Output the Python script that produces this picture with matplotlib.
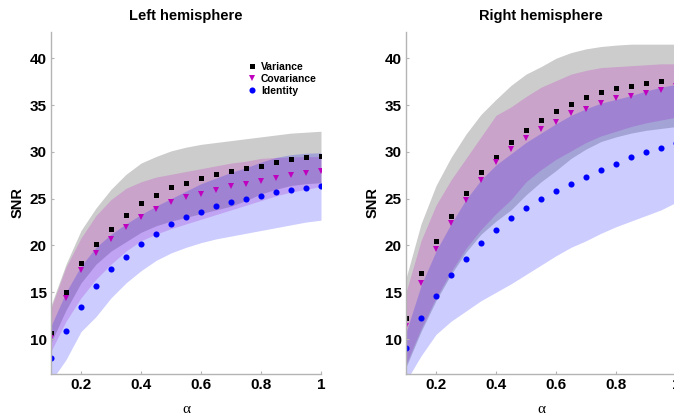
import numpy as np
import matplotlib
matplotlib.use('Agg')
import matplotlib.pyplot as plt

alpha = [0.1, 0.15, 0.2, 0.25, 0.3, 0.35, 0.4, 0.45, 0.5, 0.55,
         0.6, 0.65, 0.7, 0.75, 0.8, 0.85, 0.9, 0.95, 1.0]

# left hemisphere: means
left_var = [10.7, 15.0, 18.1, 20.2, 21.8, 23.2, 24.5, 25.4, 26.2, 26.7,
            27.2, 27.6, 27.9, 28.3, 28.5, 28.9, 29.2, 29.4, 29.6]
left_cov = [10.1, 14.4, 17.4, 19.2, 20.7, 22.0, 23.0, 23.9, 24.6, 25.2,
            25.5, 25.9, 26.3, 26.6, 26.9, 27.2, 27.5, 27.7, 27.9]
left_id = [8.0, 10.9, 13.4, 15.7, 17.5, 18.8, 20.2, 21.2, 22.3, 23.0,
           23.6, 24.2, 24.6, 25.0, 25.3, 25.7, 25.9, 26.1, 26.3]
# left hemisphere: bands
left_var_lo = [9.6, 13.1, 16.0, 18.0, 19.4, 20.4, 21.4, 22.1, 22.6, 23.0,
               23.4, 23.8, 24.2, 24.8, 25.5, 26.0, 26.4, 26.6, 26.7]
left_var_hi = [13.6, 18.0, 21.6, 24.0, 26.0, 27.6, 28.8, 29.5, 30.1, 30.5,
               30.8, 31.0, 31.2, 31.4, 31.6, 31.8, 32.0, 32.1, 32.2]
left_cov_lo = [8.7, 11.9, 14.4, 16.4, 18.0, 19.4, 20.5, 21.2, 21.8, 22.3,
               22.8, 23.3, 23.8, 24.3, 24.8, 25.3, 25.7, 26.0, 26.3]
left_cov_hi = [13.3, 17.7, 20.8, 23.2, 24.9, 26.1, 26.8, 27.3, 27.6, 27.9,
               28.2, 28.5, 28.8, 29.0, 29.3, 29.4, 29.45, 29.5, 29.5]
left_id_lo = [5.5, 7.8, 10.8, 12.4, 14.4, 16.0, 17.3, 18.4, 19.2, 19.8,
              20.3, 20.7, 21.0, 21.3, 21.6, 21.9, 22.2, 22.5, 22.7]
left_id_hi = [11.4, 15.0, 17.8, 19.8, 21.2, 22.3, 23.3, 24.2, 25.0, 25.8,
              26.6, 27.2, 27.8, 28.3, 28.9, 29.4, 29.7, 29.85, 29.9]

# right hemisphere: means
right_var = [12.3, 17.1, 20.5, 23.1, 25.6, 27.8, 29.5, 31.1, 32.3, 33.4,
             34.4, 35.1, 35.9, 36.4, 36.8, 37.0, 37.4, 37.6, 37.7]
right_cov = [11.4, 16.0, 19.6, 22.4, 24.9, 27.0, 28.9, 30.3, 31.5, 32.4,
             33.2, 34.1, 34.6, 35.2, 35.8, 36.0, 36.3, 36.6, 37.0]
right_id = [9.05, 12.2, 14.65, 16.8, 18.6, 20.25, 21.6, 22.9, 24.0, 25.0,
            25.8, 26.6, 27.35, 28.1, 28.7, 29.4, 29.95, 30.4, 30.9]
# right hemisphere: bands
right_var_lo = [7.0, 10.8, 14.1, 16.9, 19.3, 21.2, 22.6, 23.8, 25.4, 26.8,
                28.0, 29.3, 30.3, 31.1, 31.6, 32.0, 32.3, 32.5, 32.7]
right_var_hi = [16.5, 22.3, 26.4, 29.4, 31.9, 34.0, 35.6, 37.1, 38.3, 39.1,
                40.0, 40.6, 41.0, 41.25, 41.4, 41.5, 41.5, 41.5, 41.5]
right_cov_lo = [7.3, 11.1, 14.4, 17.2, 19.7, 21.7, 23.4, 24.9, 26.8, 28.1,
                29.2, 30.1, 31.0, 31.7, 32.2, 32.7, 33.1, 33.4, 33.7]
right_cov_hi = [15.0, 20.5, 24.3, 27.0, 29.3, 31.6, 33.9, 34.8, 35.9, 36.9,
                37.6, 38.3, 38.7, 39.0, 39.1, 39.2, 39.3, 39.4, 39.4]
right_id_lo = [5.5, 8.2, 10.5, 11.9, 13.0, 14.1, 15.0, 15.9, 16.9, 17.9,
               18.9, 19.8, 20.5, 21.3, 22.0, 22.6, 23.2, 23.8, 24.6]
right_id_hi = [10.7, 15.7, 19.4, 22.3, 24.9, 27.0, 28.6, 29.8, 31.0, 32.0,
               33.0, 33.9, 34.6, 35.2, 35.6, 36.0, 36.5, 36.9, 37.2]

xticks = [0.2, 0.4, 0.6, 0.8, 1.0]
xticklabels = ['0.2', '0.4', '0.6', '0.8', '1']
yticks = [10, 15, 20, 25, 30, 35, 40]

plt.rcParams['font.family'] = ['Liberation Sans', 'DejaVu Sans']
plt.rcParams['font.weight'] = 'bold'

fig = plt.figure(figsize=(6.74, 4.15), dpi=100)
W, H = 674, 415


def panel(rect, title, m, bands, legend=False):
    x0, y0, x1, y1 = rect
    ax = fig.add_axes([x0 / W, 1 - y1 / H, (x1 - x0) / W, (y1 - y0) / H])
    (vlo, vhi), (clo, chi), (ilo, ihi) = bands
    ax.fill_between(alpha, vlo, vhi, color='k', alpha=0.2, lw=0)
    ax.fill_between(alpha, clo, chi, color='m', alpha=0.2, lw=0)
    ax.fill_between(alpha, ilo, ihi, color='b', alpha=0.2, lw=0)
    ax.plot(alpha, m[0], 's', color='k', ms=3.6, mew=0, label='Variance')
    ax.plot(alpha, m[1], 'v', color='m', ms=4.5, mew=0, label='Covariance')
    ax.plot(alpha, m[2], 'o', color='b', ms=4.4, mew=0, label='Identity')
    ax.set_xlim(0.1, 1.0)
    ax.set_ylim(6.27, 42.8)
    ax.set_xticks(xticks)
    ax.set_xticklabels(xticklabels)
    ax.set_yticks(yticks)
    for s in ['top', 'right']:
        ax.spines[s].set_visible(False)
    for s in ['left', 'bottom']:
        ax.spines[s].set_color('#b4b4b4')
        ax.spines[s].set_linewidth(1.0)
    ax.tick_params(direction='in', length=2.5, color='#b4b4b4', labelsize=11,
                   pad=3)
    ax.set_title(title, fontsize=10.5, fontweight='bold', pad=9)
    ax.set_ylabel('SNR', fontsize=10.5, fontweight='bold')
    ax.yaxis.set_label_coords(-26 / (x1 - x0), 0.5)
    ax.set_xlabel('α', fontsize=11, fontweight='normal',
                  family=['Liberation Serif', 'DejaVu Serif'])
    ax.xaxis.set_label_coords(0.5, -29 / (y1 - y0))
    if legend:
        ax.legend(loc='upper left', bbox_to_anchor=(0.71, 0.925), frameon=False,
                  prop={'weight': 'bold', 'size': 7.5}, handletextpad=0.35,
                  labelspacing=0.2, handlelength=1.0, borderaxespad=0)
    return ax


panel((51, 32, 321, 374), 'Left hemisphere', (left_var, left_cov, left_id),
      ((left_var_lo, left_var_hi), (left_cov_lo, left_cov_hi),
       (left_id_lo, left_id_hi)), legend=True)
panel((406, 32, 676, 374), 'Right hemisphere', (right_var, right_cov, right_id),
      ((right_var_lo, right_var_hi), (right_cov_lo, right_cov_hi),
       (right_id_lo, right_id_hi)))

fig.savefig('out.png', dpi=100)
